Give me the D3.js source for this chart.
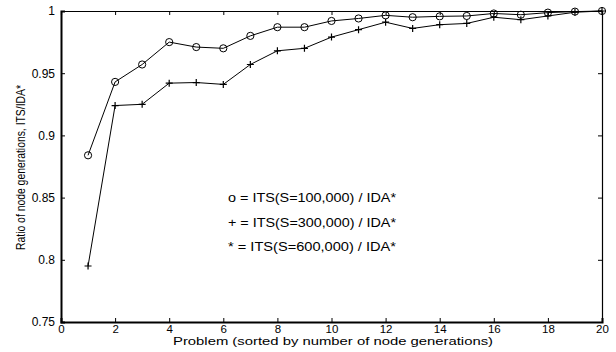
<!DOCTYPE html>
<html>
<head>
<meta charset="utf-8">
<script src="https://cdn.jsdelivr.net/npm/d3@7"></script>
<style>
  html, body { margin: 0; padding: 0; background: #fff; }
  svg { display: block; font-family: "Liberation Sans", Arial, sans-serif; }
</style>
</head>
<body>
<div id="chart"></div>
<script>
// --- data ---
const problems = d3.range(1, 21);
const its100k = [0.884, 0.943, 0.957, 0.975, 0.971, 0.970, 0.980, 0.987, 0.987, 0.992,
                 0.994, 0.9965, 0.995, 0.9957, 0.996, 0.998, 0.997, 0.9987, 0.9995, 1.0];
const its300k = [0.795, 0.924, 0.925, 0.942, 0.9425, 0.941, 0.957, 0.968, 0.970, 0.979,
                 0.985, 0.991, 0.986, 0.989, 0.990, 0.995, 0.993, 0.996, 0.999, 1.0];
const xTicks = d3.range(0, 21, 2);
const yTicks = [0.75, 0.8, 0.85, 0.9, 0.95, 1];
const legendLines = [
  "o = ITS(S=100,000) / IDA*",
  "+ = ITS(S=300,000) / IDA*",
  "* = ITS(S=600,000) / IDA*"
];

const width = 616, height = 352;
const margin = { top: 11, right: 14, bottom: 30, left: 61 };

const svg = d3.select("#chart").append("svg")
  .attr("width", width)
  .attr("height", height);

const x = d3.scaleLinear().domain([0, 20]).range([margin.left, width - margin.right]);
const y = d3.scaleLinear().domain([0.75, 1]).range([height - margin.bottom, margin.top]);

const fmt = d => (d === 1 ? "1" : d3.format("")(d));

// ticks pointing inwards, labels outside
const gx = svg.append("g").attr("transform", `translate(0,${y(0.75)})`)
  .call(d3.axisBottom(x).tickValues(xTicks).tickSize(-4).tickFormat(d3.format("d")));
const gy = svg.append("g").attr("transform", `translate(${x(0)},0)`)
  .call(d3.axisLeft(y).tickValues(yTicks).tickSize(-4).tickPadding(6).tickFormat(fmt));
svg.append("g").attr("transform", `translate(0,${y(1)})`)
  .call(d3.axisTop(x).tickValues(xTicks).tickSize(-4).tickFormat(""));
svg.append("g").attr("transform", `translate(${x(20)},0)`)
  .call(d3.axisRight(y).tickValues(yTicks).tickSize(-4).tickFormat(""));

svg.selectAll(".domain").attr("stroke", "#000").attr("stroke-width", 1.2);
svg.selectAll(".tick line").attr("stroke", "#000");
svg.selectAll(".tick text").attr("fill", "#000").style("font-size", "12px");
gx.select(".domain").attr("stroke-width", 2);
gy.select(".domain").attr("stroke-width", 2);
gx.selectAll(".tick text").attr("y", 10.5).attr("dy", 0).style("font-size", "11.5px");

// series lines
const line = d3.line().x((d, i) => x(problems[i])).y(d => y(d));
[its100k, its300k].forEach(s => {
  svg.append("path").datum(s)
    .attr("d", line)
    .attr("fill", "none")
    .attr("stroke", "#000")
    .attr("stroke-width", 1);
});

// circle markers
svg.selectAll(".m-o").data(its100k).enter().append("circle")
  .attr("cx", (d, i) => x(problems[i]))
  .attr("cy", d => y(d))
  .attr("r", 3.6)
  .attr("fill", "none")
  .attr("stroke", "#000")
  .attr("stroke-width", 1);

// plus markers
svg.selectAll(".m-p").data(its300k).enter().append("path")
  .attr("transform", (d, i) => `translate(${x(problems[i])},${y(d)})`)
  .attr("d", "M-3.5,0H3.5M0,-3.5V3.5")
  .attr("stroke", "#000")
  .attr("stroke-width", 1.2);

// legend text
svg.selectAll(".legend").data(legendLines).enter().append("text")
  .attr("x", 228)
  .attr("y", (d, i) => 202 + i * 24.5)
  .attr("fill", "#000")
  .attr("textLength", 168)
  .attr("lengthAdjust", "spacingAndGlyphs")
  .style("font-size", "12px")
  .text(d => d);

// axis titles
svg.append("text")
  .attr("x", 333)
  .attr("y", 345)
  .attr("text-anchor", "middle")
  .attr("textLength", 320)
  .attr("lengthAdjust", "spacingAndGlyphs")
  .style("font-size", "11.5px")
  .text("Problem (sorted by number of node generations)");

svg.append("text")
  .attr("transform", "translate(25,167.5) rotate(-90)")
  .attr("text-anchor", "middle")
  .attr("textLength", 165)
  .attr("lengthAdjust", "spacingAndGlyphs")
  .style("font-size", "12px")
  .text("Ratio of node generations, ITS/IDA*");
</script>
</body>
</html>
